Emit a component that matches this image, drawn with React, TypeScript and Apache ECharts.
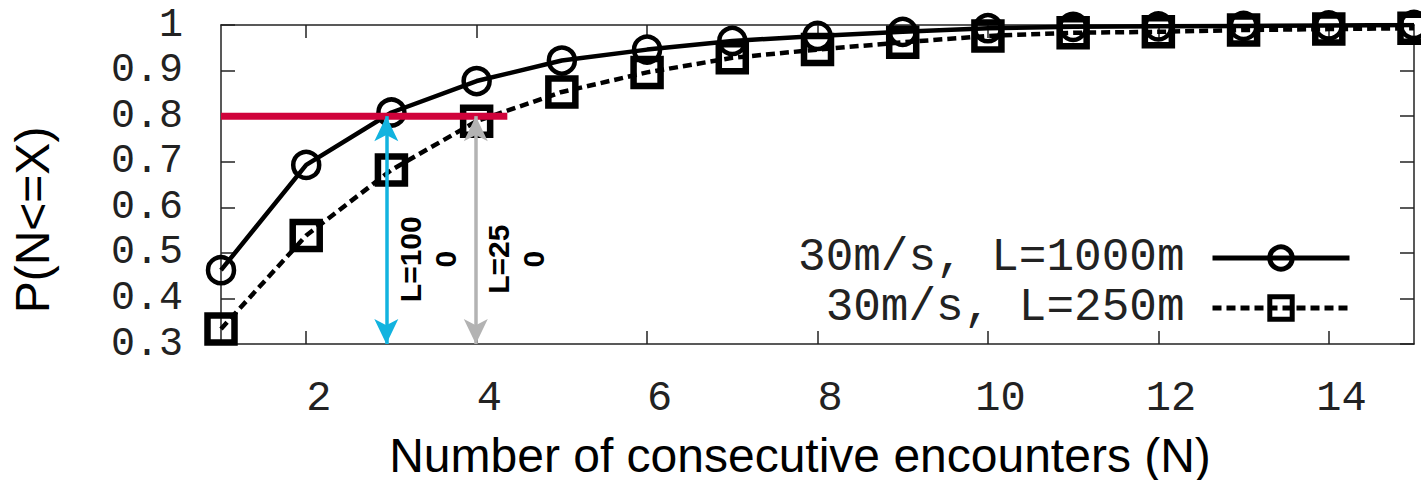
import React, { useEffect, useRef } from "react";
import * as echarts from "echarts";

// ---- data ----
const encounters = [1, 2, 3, 4, 5, 6, 7, 8, 9, 10, 11, 12, 13, 14, 15];
const pL1000 = [0.462, 0.693, 0.808, 0.877, 0.922, 0.946, 0.965, 0.976, 0.985, 0.993, 0.996, 0.997, 0.998, 0.999, 1.0];
const pL250 = [0.333, 0.538, 0.682, 0.789, 0.853, 0.896, 0.928, 0.946, 0.962, 0.976, 0.983, 0.985, 0.989, 0.991, 0.993];
const xTickValues = [2, 4, 6, 8, 10, 12, 14];
const seriesNames = ["30m/s, L=1000m", "30m/s, L=250m"];
const thresholdY = 0.8;
const thresholdX = [1, 4.36];
const arrowX = [2.94, 3.99];
const arrowColors = ["#12B3DF", "#B3B3B3"];
const annotTexts = ["L=100\n0", "L=25\n0"];
const annotX = [3.43, 4.46];
const annotY = 0.486;
const yMin = 0.3;
const yMax = 1;

const MONO = "'Liberation Mono', 'DejaVu Sans Mono', monospace";
const SANS = "'Liberation Sans', Arial, sans-serif";

export default function App() {
  const ref = useRef<HTMLDivElement>(null);
  useEffect(() => {
    if (!ref.current) return;
    const chart = echarts.init(ref.current, undefined, { renderer: "svg" });
    const axisLine = { show: true, onZero: false, lineStyle: { color: "#222", width: 1.5 } };
    const tickStyle = { color: "#222", width: 1.5 };
    const option: any = {
      animation: false,
      backgroundColor: "#fff",
      grid: { left: 221, top: 25, right: 7, bottom: 136 },
      legend: {
        data: seriesNames,
        orient: "vertical",
        right: 69,
        top: 235,
        padding: 0,
        align: "right",
        itemWidth: 137,
        itemHeight: 28,
        itemGap: 4,
        lineStyle: { width: 5 },
        itemStyle: { borderWidth: 5 },
        textStyle: { fontFamily: MONO, fontSize: 46, lineHeight: 46, color: "#222", padding: [0, 23, 0, 0] },
      },
      xAxis: [
        {
          type: "value",
          min: 1,
          max: 15,
          position: "bottom",
          axisLine,
          axisTick: { show: true, inside: true, length: 13, customValues: xTickValues, lineStyle: tickStyle },
          axisLabel: {
            customValues: xTickValues,
            formatter: (v: number) => " " + v,
            margin: 34,
            fontFamily: MONO,
            fontSize: 42,
            color: "#222",
          },
          splitLine: { show: false },
        },
        {
          type: "value",
          min: 1,
          max: 15,
          position: "top",
          axisLine,
          axisTick: { show: true, inside: true, length: 13, customValues: xTickValues, lineStyle: tickStyle },
          axisLabel: { show: false },
          splitLine: { show: false },
        },
      ],
      yAxis: [
        {
          type: "value",
          min: yMin,
          max: yMax,
          interval: 0.1,
          position: "left",
          axisLine,
          axisTick: { show: true, inside: true, length: 14, lineStyle: tickStyle },
          axisLabel: {
            margin: 38,
            fontFamily: MONO,
            fontSize: 40,
            lineHeight: 36,
            color: "#222",
            showMinLabel: true,
            showMaxLabel: true,
            hideOverlap: false,
          },
          splitLine: { show: false },
        },
        {
          type: "value",
          min: yMin,
          max: yMax,
          interval: 0.1,
          position: "right",
          axisLine,
          axisTick: { show: true, inside: true, length: 14, lineStyle: tickStyle },
          axisLabel: { show: false },
          splitLine: { show: false },
        },
      ],
      series: [
        {
          name: seriesNames[0],
          type: "line",
          data: encounters.map((x, i) => [x, pL1000[i]]),
          symbol: "circle",
          symbolSize: 26,
          itemStyle: { color: "rgba(0,0,0,0)", borderColor: "#000", borderWidth: 4.5 },
          lineStyle: { color: "#000", width: 4.5 },
          z: 2,
        },
        {
          name: seriesNames[1],
          type: "line",
          data: encounters.map((x, i) => [x, pL250[i]]),
          symbol: "rect",
          symbolSize: 27,
          itemStyle: { color: "rgba(0,0,0,0)", borderColor: "#000", borderWidth: 6.5 },
          lineStyle: { color: "#000", width: 4.5, type: [9, 5] },
          z: 3,
        },
        {
          name: "threshold",
          type: "line",
          data: thresholdX.map((x) => [x, thresholdY]),
          symbol: "none",
          lineStyle: { color: "#D0033B", width: 7 },
          z: 4,
          markLine: {
            silent: true,
            symbol: ["arrow", "arrow"],
            symbolSize: [18, 25],
            label: { show: false },
            data: arrowX.map((x, i) => [
              { coord: [x, thresholdY], lineStyle: { color: arrowColors[i], width: 3.5, type: "solid" }, itemStyle: { color: arrowColors[i] } },
              { coord: [x, yMin] },
            ]),
          },
          markPoint: {
            silent: true,
            symbol: "circle",
            symbolSize: 1,
            itemStyle: { color: "rgba(0,0,0,0)" },
            label: {
              show: true,
              position: "inside",
              formatter: (p: any) => p.name,
              rotate: 90,
              fontFamily: SANS,
              fontWeight: "bold",
              fontSize: 30,
              lineHeight: 35,
              color: "#000",
              align: "center",
            },
            data: annotTexts.map((t, i) => ({ name: t, coord: [annotX[i], annotY] })),
          },
        },
      ],
      graphic: [
        {
          type: "text",
          x: 32,
          y: 220,
          rotation: Math.PI / 2,
          style: { text: "P(N<=X)", fontFamily: SANS, fontSize: 48, fill: "#000", align: "center", verticalAlign: "middle" },
        },
        {
          type: "text",
          x: 800,
          y: 455,
          style: {
            text: "Number of consecutive encounters (N)",
            fontFamily: SANS,
            fontSize: 48,
            fill: "#000",
            align: "center",
            verticalAlign: "middle",
          },
        },
      ],
    };
    chart.setOption(option);
    return () => chart.dispose();
  }, []);
  return <div ref={ref} style={{ position: "fixed", left: 0, top: 0, width: 1421, height: 480 }} />;
}
